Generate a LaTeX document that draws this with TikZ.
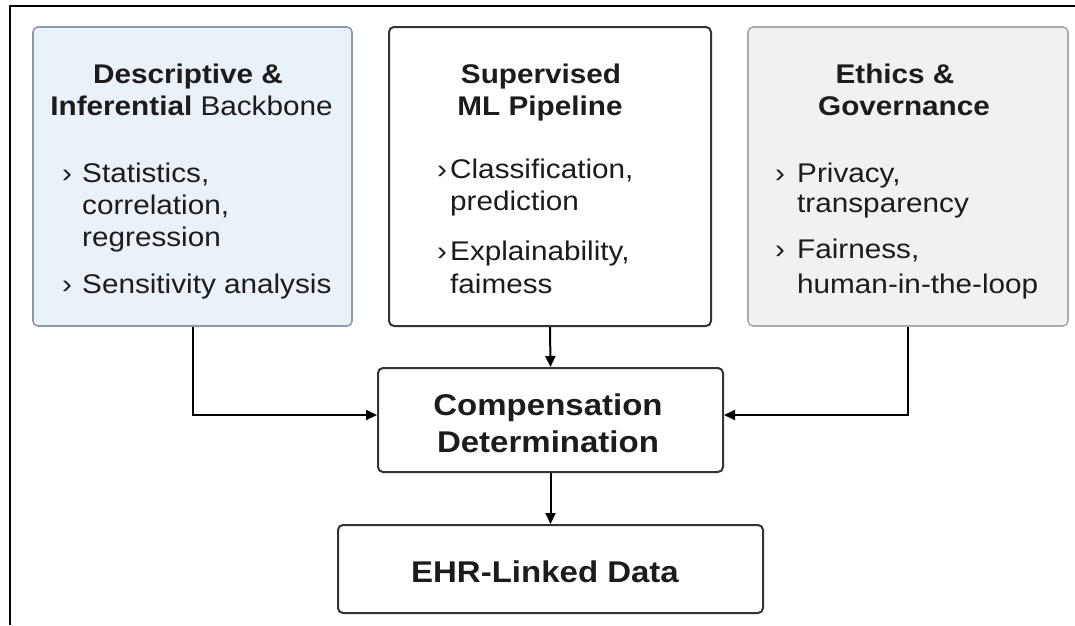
\documentclass[tikz,border=0pt]{standalone}
\usepackage{fontspec}
\usetikzlibrary{arrows.meta}
\newfontfamily\diagfont[FakeStretch=1.1]{Liberation Sans}
\definecolor{inkdark}{HTML}{1C1C1C}
\definecolor{edgedark}{HTML}{333333}
\definecolor{bluefill}{HTML}{E9F1F9}
\definecolor{blueedge}{HTML}{8D99A6}
\definecolor{grayfill}{HTML}{F1F1F1}
\definecolor{grayedge}{HTML}{A9A9A9}

\begin{document}
\begin{tikzpicture}[x=1pt,y=-1pt,
  panel/.style={draw, rounded corners=5pt, inner sep=0pt, line width=1.6pt},
  darkpanel/.style={panel, draw=edgedark, line width=2pt, fill=white},
  ttl/.style={anchor=base, inner sep=0pt, text=inkdark,
    font=\diagfont\bfseries\fontsize{27}{32}\selectfont},
  bigttl/.style={anchor=base, inner sep=0pt, text=inkdark,
    font=\diagfont\bfseries\fontsize{30}{36}\selectfont},
  itm/.style={anchor=base west, inner sep=0pt, text=inkdark,
    font=\diagfont\fontsize{27}{32}\selectfont},
  chev/.style={itm},
  arr/.style={line width=2pt, draw=black, -{Triangle[length=11pt,width=10pt]}}
]
\useasboundingbox (0,0) rectangle (1075,625);

% frame edges
\draw[line width=2pt] (10,625) -- (10,6) -- (1075,6);

% top panels
\node[panel, draw=blueedge, fill=bluefill, minimum width=319pt, minimum height=299pt] (b1) at (192.5,176.5) {};
\node[darkpanel, minimum width=322pt, minimum height=299pt] (b2) at (550,176.5) {};
\node[panel, draw=grayedge, fill=grayfill, minimum width=320pt, minimum height=299pt] (b3) at (908,176.5) {};

% lower boxes
\node[darkpanel, minimum width=345pt, minimum height=104pt] (comp) at (550.5,420) {};
\node[darkpanel, minimum width=425pt, minimum height=88pt] (ehr) at (550.5,569) {};

% panel 1 text
\node[ttl] (t1a) at (188,83) {Descriptive \&};
\node[ttl] (t1b) at (191.5,115) {Inferential \mdseries Backbone};
\node[chev] (c1a) at (62,182) {›};
\node[itm] (i1a) at (82,182) {Statistics,};
\node[itm] (i1b) at (82,214) {correlation,};
\node[itm] (i1c) at (82,246) {regression};
\node[chev] (c1b) at (62,293) {›};
\node[itm] (i1d) at (82,293) {Sensitivity analysis};

% panel 2 text
\node[ttl] (t2a) at (541,83) {Supervised};
\node[ttl] (t2b) at (540,115) {ML Pipeline};
\node[chev] (c2a) at (437,178) {›};
\node[itm] (i2a) at (450,178) {Classification,};
\node[itm] (i2b) at (450,210) {prediction};
\node[chev] (c2b) at (437,260) {›};
\node[itm] (i2c) at (450,260) {Explainability,};
\node[itm] (i2d) at (450,293) {faimess};

% panel 3 text
\node[ttl] (t3a) at (895,83) {Ethics \&};
\node[ttl] (t3b) at (904,115) {Governance};
\node[chev] (c3a) at (775,182) {›};
\node[itm] (i3a) at (797,182) {Privacy,};
\node[itm] (i3b) at (797,212) {transparency};
\node[chev] (c3b) at (775,258) {›};
\node[itm] (i3c) at (797,258) {Fairness,};
\node[itm] (i3d) at (797,293) {human-in-the-loop};

% lower box text
\node[bigttl] (tc1) at (548,415) {Compensation};
\node[bigttl] (tc2) at (548,452) {Determination};
\node[bigttl] (te) at (545,582) {EHR-Linked Data};

% connectors
\draw[arr] (b1.south) |- ([yshift=5pt]comp.west);
\draw[arr] (b3.south) |- ([yshift=5pt]comp.east);
\draw[arr] (b2.south) -- (comp.north);
\draw[arr] (comp.south) -- (ehr.north);
\end{tikzpicture}
\end{document}
